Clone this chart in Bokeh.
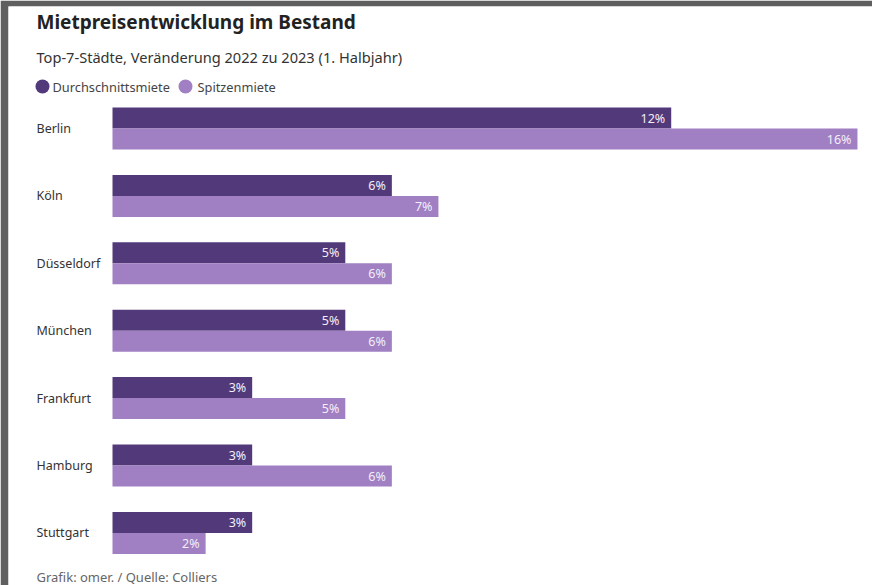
from bokeh.plotting import figure
from bokeh.models import Range1d, ColumnDataSource
from bokeh.core.properties import value
from bokeh.embed import file_html
from bokeh.resources import INLINE

# ---- data ----
cities = ["Berlin", "Köln", "Düsseldorf", "München", "Frankfurt", "Hamburg", "Stuttgart"]
durchschnittsmiete = [12, 6, 5, 5, 3, 3, 3]
spitzenmiete = [16, 7, 6, 6, 5, 6, 2]
series_names = ["Durchschnittsmiete", "Spitzenmiete"]
title_text = "Mietpreisentwicklung im Bestand"
subtitle_text = "Top-7-Städte, Veränderung 2022 zu 2023 (1. Halbjahr)"
footer_text = "Grafik: omer. / Quelle: Colliers"

# ---- style / layout ----
DARK = "#523a7a"
LIGHT = "#a07fc3"
FONT = "Noto Sans"
W, H = 872, 585
LEFT, TOP = 8, 6
X0 = 112            # pixel of 0 %
PX_PER_PCT = 46.56
ROW0 = 128          # pixel centre of first row
PITCH = 67.4
BAR_H = 21 / PITCH


def px(pix):
    return (pix - X0) / PX_PER_PCT


def py(pix):
    return (pix - ROW0) / PITCH


p = figure(width=W, height=H,
           x_range=Range1d(px(LEFT), px(W)),
           y_range=Range1d(py(H), py(TOP)),
           output_backend="svg", toolbar_location=None,
           min_border=0, min_border_left=LEFT, min_border_top=TOP,
           min_border_right=0, min_border_bottom=0)
p.axis.visible = False
p.grid.visible = False
p.outline_line_color = None
p.border_fill_color = "#5f5f5f"
p.background_fill_color = "white"

idx = list(range(len(cities)))
src = ColumnDataSource(dict(
    city=cities,
    y=idx,
    y_d=[i - BAR_H / 2 for i in idx],
    y_s=[i + BAR_H / 2 for i in idx],
    d=durchschnittsmiete,
    s=spitzenmiete,
    d_lab=[f"{v}%" for v in durchschnittsmiete],
    s_lab=[f"{v}%" for v in spitzenmiete],
    cx=[px(36)] * len(cities),
))

p.hbar(y="y_d", left=0, right="d", height=BAR_H, source=src,
       fill_color=DARK, line_color=None)
p.hbar(y="y_s", left=0, right="s", height=BAR_H, source=src,
       fill_color=LIGHT, line_color=None)

p.text(x="d", y="y_d", text="d_lab", source=src, x_offset=-6,
       text_align="right", text_baseline="middle", text_color="#f4eef8",
       text_font=value(FONT), text_font_size="12.5px")
p.text(x="s", y="y_s", text="s_lab", source=src, x_offset=-6,
       text_align="right", text_baseline="middle", text_color="#f4eef8",
       text_font=value(FONT), text_font_size="12.5px")

p.text(x="cx", y="y", text="city", source=src,
       text_align="left", text_baseline="middle", text_color="#333333",
       text_font=value(FONT), text_font_size="12.5px")

# title / subtitle
p.text(x=[px(36)], y=[py(21)], text=[title_text], text_align="left",
       text_baseline="middle", text_color="#222222", text_font=value(FONT),
       text_font_size="19px", text_font_style="bold")
p.text(x=[px(36)], y=[py(56)], text=[subtitle_text], text_align="left",
       text_baseline="middle", text_color="#333333", text_font=value(FONT),
       text_font_size="14.6px")

# legend
p.scatter(x=[px(42), px(185)], y=[py(86), py(86)], marker="circle", size=14,
          fill_color=[DARK, LIGHT], line_color=None)
p.text(x=[px(52), px(197)], y=[py(86), py(86)], text=series_names,
       text_align="left", text_baseline="middle", text_color="#444444",
       text_font=value(FONT), text_font_size="12.8px")

# footer
p.text(x=[px(36)], y=[py(585)], text=[footer_text], text_align="left",
       text_baseline="bottom", text_color="#666666", text_font=value(FONT),
       text_font_size="13px")

open("out.html", "w").write(file_html(p, INLINE))
